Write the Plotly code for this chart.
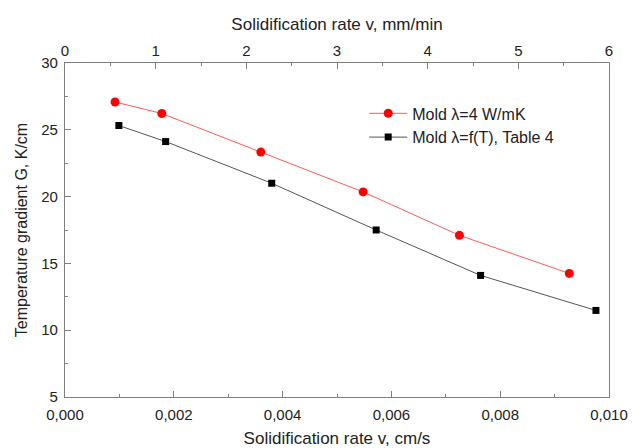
import plotly.graph_objects as go

# Solidification rate v (cm/s) and temperature gradient G (K/cm)
red_v = [0.00092, 0.00178, 0.00360, 0.00548, 0.00725, 0.00927]
red_G = [27.08, 26.22, 23.33, 20.35, 17.10, 14.25]
blk_v = [0.00099, 0.00185, 0.00380, 0.00572, 0.00764, 0.00976]
blk_G = [25.32, 24.12, 21.00, 17.50, 14.10, 11.48]

red_name = "Mold \u03bb=4 W/mK"
blk_name = "Mold \u03bb=f(T), Table 4"

CM_S_TO_MM_MIN = 600.0

font = "Liberation Sans, Arial, sans-serif"
axis_col = "#808080"
text_col = "#222222"

fig = go.Figure()
fig.add_trace(go.Scatter(
    x=red_v, y=red_G, name=red_name, mode="lines+markers",
    line=dict(color="#ff5a5a", width=1),
    marker=dict(symbol="circle", size=9, color="#ff0000"),
))
fig.add_trace(go.Scatter(
    x=blk_v, y=blk_G, name=blk_name, mode="lines+markers",
    line=dict(color="#555555", width=1),
    marker=dict(symbol="square", size=7, color="#000000"),
))
# invisible trace to bind the top axis (mm/min)
fig.add_trace(go.Scatter(
    x=[v * CM_S_TO_MM_MIN for v in red_v], y=red_G, xaxis="x2",
    mode="markers", marker=dict(opacity=0), showlegend=False, hoverinfo="skip",
))

common = dict(
    showline=True, linecolor=axis_col, linewidth=1.3, showgrid=False, zeroline=False,
    ticks="inside", ticklen=6, tickcolor=axis_col, automargin=False,
    tickfont=dict(family=font, size=15, color=text_col),
)

fig.update_layout(
    width=642, height=448,
    margin=dict(l=65, r=33, t=63, b=51),
    paper_bgcolor="white", plot_bgcolor="white",
    separators=",.",
    font=dict(family=font, color=text_col),
    xaxis=dict(
        range=[0, 0.010], tickvals=[0, 0.002, 0.004, 0.006, 0.008, 0.010],
        tickformat=".3f", mirror=False, ticklabelstandoff=4,
        minor=dict(ticks="inside", ticklen=3, tickcolor=axis_col, dtick=0.001, tick0=0),
        title=dict(text="Solidification rate v, cm/s", font=dict(family=font, size=17, color=text_col), standoff=10),
        **common,
    ),
    xaxis2=dict(
        overlaying="x", side="top", range=[0, 6], dtick=1, tick0=0,
        minor=dict(ticks="inside", ticklen=3, tickcolor=axis_col, dtick=0.5, tick0=0),
        title=dict(text="Solidification rate v, mm/min", font=dict(family=font, size=17, color=text_col), standoff=6),
        **common,
    ),
    yaxis=dict(
        range=[5, 30], dtick=5, tick0=5, mirror=True, ticklabelstandoff=3,
        minor=dict(ticks="inside", ticklen=3, tickcolor=axis_col, dtick=2.5, tick0=5),
        title=dict(text="Temperature gradient G, K/cm", font=dict(family=font, size=16, color=text_col), standoff=9),
        **common,
    ),
    legend=dict(
        x=0.55, y=0.9, xanchor="left", yanchor="top",
        bgcolor="rgba(0,0,0,0)", font=dict(family=font, size=16, color=text_col),
        tracegroupgap=0, itemwidth=38,
    ),
)

fig.write_html("out.html")
